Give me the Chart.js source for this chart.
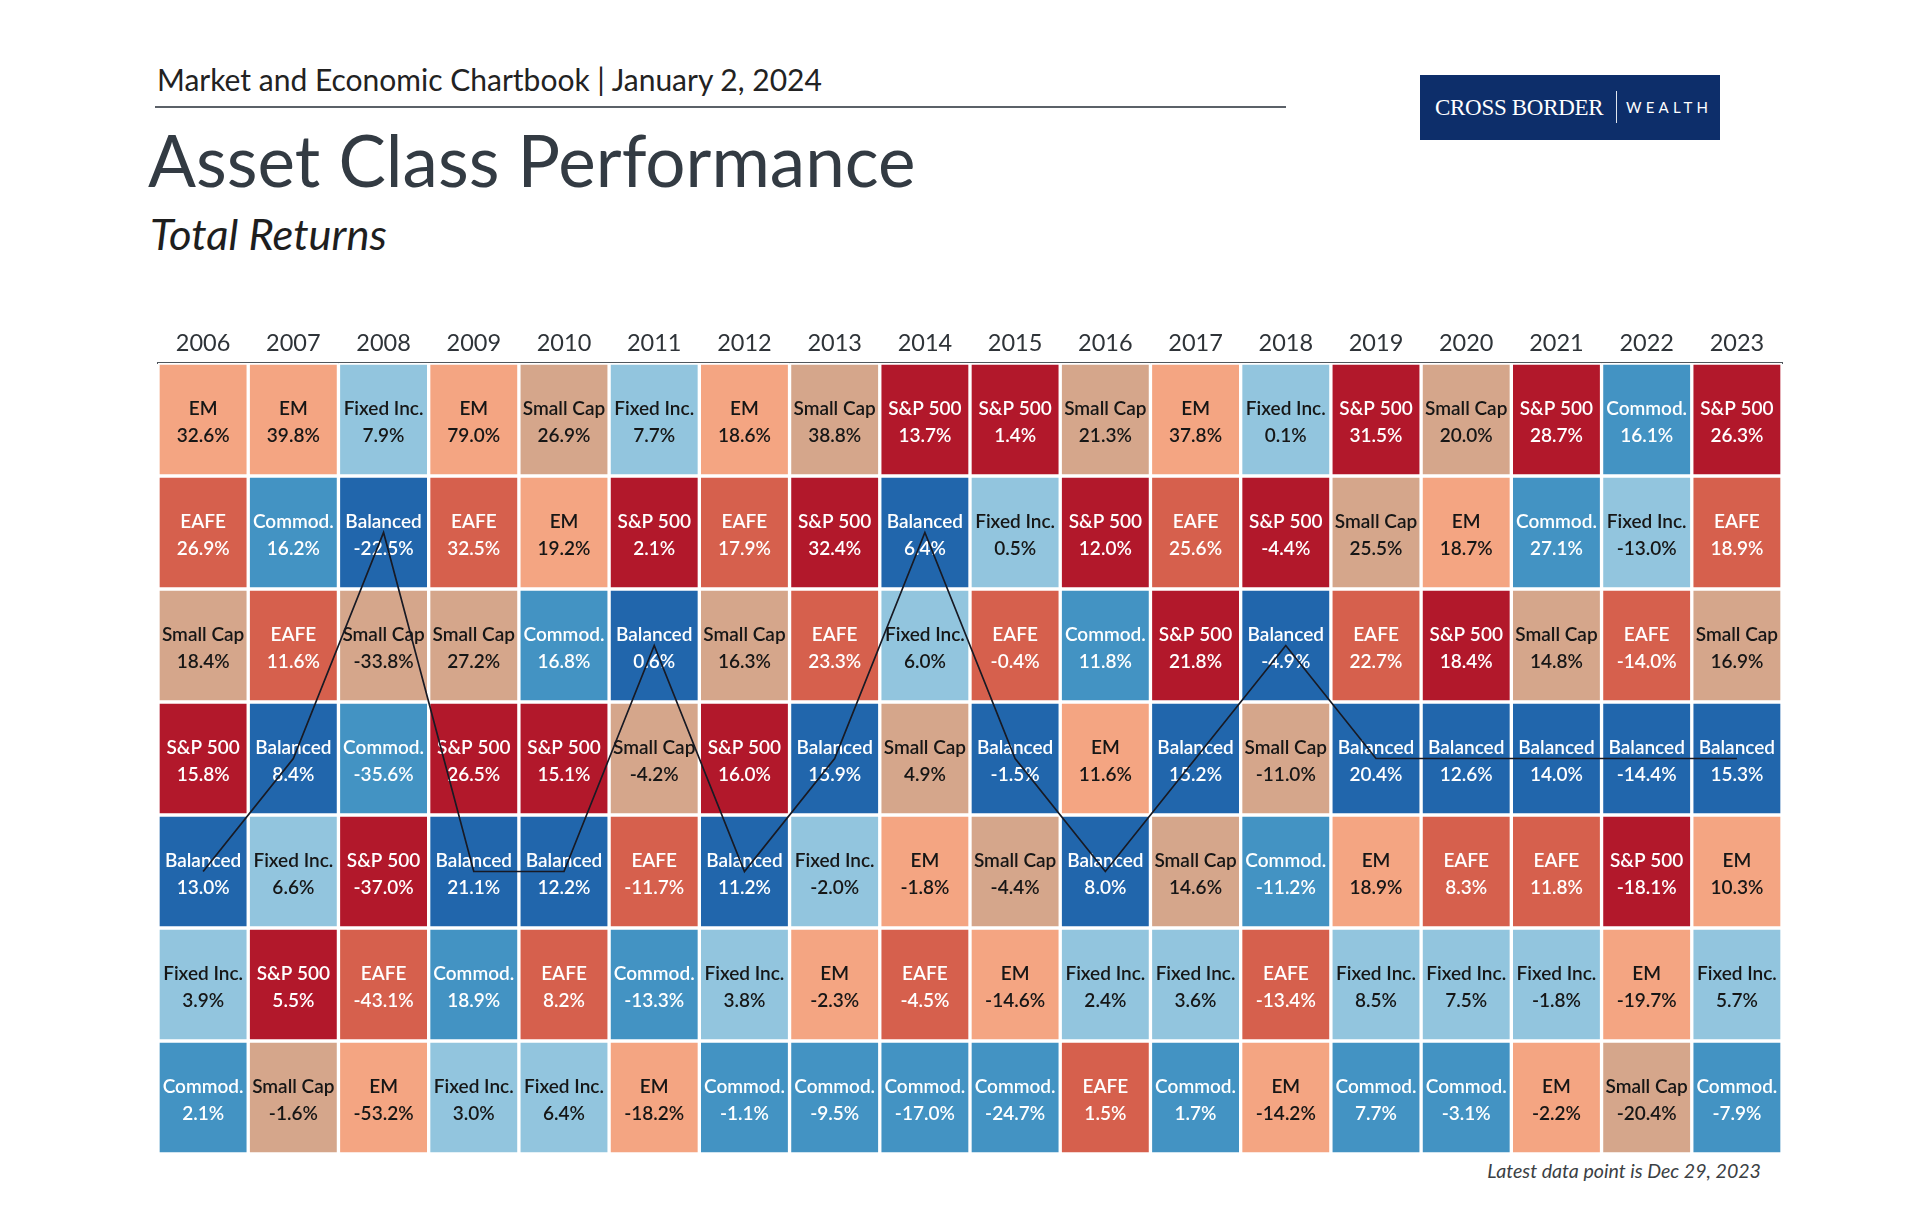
<!DOCTYPE html>
<html>
<head>
<meta charset="utf-8">
<script src="https://cdn.jsdelivr.net/npm/chart.js@4.4.1/dist/chart.umd.min.js"></script>
<style>
  html, body { margin:0; padding:0; background:#fff; }
  body { width:1920px; height:1225px; position:relative; overflow:hidden; font-family:'Lato', 'Noto Sans', sans-serif; }
  .abs { position:absolute; white-space:nowrap; line-height:1; }
  #hdr { left:157px; top:64px; font-size:30px; color:#222; }
  #rule { left:155px; top:106px; width:1131px; height:1.5px; background:#5b6168; }
  #title { left:148px; top:124px; font-size:71px; color:#333b43; }
  #sub { left:150px; top:212px; font-size:43.5px; font-style:italic; color:#1e1e1e; }
  #logo { left:1420px; top:75px; width:300px; height:65px; background:#0d2e6a; }
  #logo .cb { position:absolute; left:15px; top:21px; font-family:'Liberation Serif', 'DejaVu Serif', serif; font-size:23px; color:#fff; letter-spacing:-0.3px; line-height:1; }
  #logo .bar { position:absolute; left:196px; top:16px; width:1px; height:32px; background:#dfe5ee; }
  #logo .w { position:absolute; left:206px; top:25px; font-family:'Lato', sans-serif; font-size:15px; color:#fff; letter-spacing:4.2px; line-height:1; }
  #foot { right:159px; top:1161px; font-size:19.6px; font-style:italic; color:#3b3f44; }
  #chartCanvas { position:absolute; left:0; top:0; }
</style>
</head>
<body>
<div class="abs" id="hdr">Market and Economic Chartbook | January 2, 2024</div>
<div class="abs" id="rule"></div>
<div class="abs" id="title">Asset Class Performance</div>
<div class="abs" id="sub">Total Returns</div>
<div class="abs" id="logo"><span class="cb">CROSS BORDER</span><span class="bar"></span><span class="w">WEALTH</span></div>
<div class="abs" id="foot">Latest data point is Dec 29, 2023</div>
<canvas id="chartCanvas" width="1920" height="1225"></canvas>
<script>
// ---- data ----
const years = ['2006','2007','2008','2009','2010','2011','2012','2013','2014','2015','2016','2017','2018','2019','2020','2021','2022','2023'];
const classNames = ['S&P 500','Small Cap','EAFE','EM','Fixed Inc.','Commod.','Balanced'];
const sp500    = [15.8, 5.5, -37.0, 26.5, 15.1, 2.1, 16.0, 32.4, 13.7, 1.4, 12.0, 21.8, -4.4, 31.5, 18.4, 28.7, -18.1, 26.3];
const smallCap = [18.4, -1.6, -33.8, 27.2, 26.9, -4.2, 16.3, 38.8, 4.9, -4.4, 21.3, 14.6, -11.0, 25.5, 20.0, 14.8, -20.4, 16.9];
const eafe     = [26.9, 11.6, -43.1, 32.5, 8.2, -11.7, 17.9, 23.3, -4.5, -0.4, 1.5, 25.6, -13.4, 22.7, 8.3, 11.8, -14.0, 18.9];
const em       = [32.6, 39.8, -53.2, 79.0, 19.2, -18.2, 18.6, -2.3, -1.8, -14.6, 11.6, 37.8, -14.2, 18.9, 18.7, -2.2, -19.7, 10.3];
const fixedInc = [3.9, 6.6, 7.9, 3.0, 6.4, 7.7, 3.8, -2.0, 6.0, 0.5, 2.4, 3.6, 0.1, 8.5, 7.5, -1.8, -13.0, 5.7];
const commod   = [2.1, 16.2, -35.6, 18.9, 16.8, -13.3, -1.1, -9.5, -17.0, -24.7, 11.8, 1.7, -11.2, 7.7, -3.1, 27.1, 16.1, -7.9];
const balanced = [13.0, 8.4, -22.5, 21.1, 12.2, 0.6, 11.2, 15.9, 6.4, -1.5, 8.0, 15.2, -4.9, 20.4, 12.6, 14.0, -14.4, 15.3];
const seriesByClass = [sp500, smallCap, eafe, em, fixedInc, commod, balanced];

// ---- styles ----
const fillOf = {
  'S&P 500': '#b2182b', 'Small Cap': '#d5a68b', 'EAFE': '#d6604d', 'EM': '#f4a582',
  'Fixed Inc.': '#92c5de', 'Commod.': '#4393c3', 'Balanced': '#2166ac'
};
const inkOf = {
  'S&P 500': '#ffffff', 'Small Cap': '#161616', 'EAFE': '#ffffff', 'EM': '#161616',
  'Fixed Inc.': '#161616', 'Commod.': '#ffffff', 'Balanced': '#ffffff'
};

// ranking per year (sorted by return, best on top)
const ranked = years.map((_, i) =>
  classNames.map((n, k) => ({ name: n, v: seriesByClass[k][i] })).sort((a, b) => b.v - a.v)
);
const nRows = classNames.length;

const datasets = [];
for (let r = 0; r < nRows; r++) {
  datasets.push({
    type: 'bar',
    data: years.map(() => [r, r + 1]),
    backgroundColor: years.map((_, i) => fillOf[ranked[i][r].name]),
    borderColor: '#ffffff',
    borderWidth: 2,
    borderSkipped: false,
    grouped: false,
    barPercentage: 1,
    categoryPercentage: 1,
    order: 2
  });
}
datasets.push({
  type: 'line',
  data: years.map((_, i) => ranked[i].findIndex(d => d.name === 'Balanced') + 0.5),
  borderColor: '#181a24',
  borderWidth: 1.7,
  pointRadius: 0,
  fill: false,
  tension: 0,
  order: 0
});

const cellLabels = {
  id: 'cellLabels',
  afterDatasetDraw(chart, args) {
    if (args.index >= nRows) return;
    const ctx = chart.ctx;
    const r = args.index;
    ctx.save();
    ctx.textAlign = 'center';
    ctx.textBaseline = 'middle';
    args.meta.data.forEach((el, i) => {
      const d = ranked[i][r];
      const yc = (el.y + el.base) / 2;
      ctx.fillStyle = inkOf[d.name];
      ctx.font = '600 19px Lato, "Noto Sans", sans-serif';
      ctx.fillText(d.name, el.x, yc - 11);
      ctx.fillText(d.v.toFixed(1) + '%', el.x, yc + 16);
    });
    ctx.restore();
  }
};

new Chart(document.getElementById('chartCanvas'), {
  data: { labels: years, datasets },
  options: {
    responsive: false,
    animation: false,
    events: [],
    layout: { padding: { left: 158, right: 138, top: 303, bottom: 71 } },
    plugins: { legend: { display: false }, tooltip: { enabled: false } },
    scales: {
      x: {
        type: 'category',
        position: 'top',
        offset: true,
        grid: { display: false, drawTicks: false },
        border: { display: true, color: '#50565c', width: 2 },
        ticks: { color: '#2e3338', font: { family: 'Lato', size: 23.5 }, padding: 5, maxRotation: 0 },
        afterFit(scale) { scale.height = 60; }
      },
      y: { type: 'linear', min: 0, max: nRows, reverse: true, display: false }
    }
  },
  plugins: [cellLabels]
});
</script>
</body>
</html>
